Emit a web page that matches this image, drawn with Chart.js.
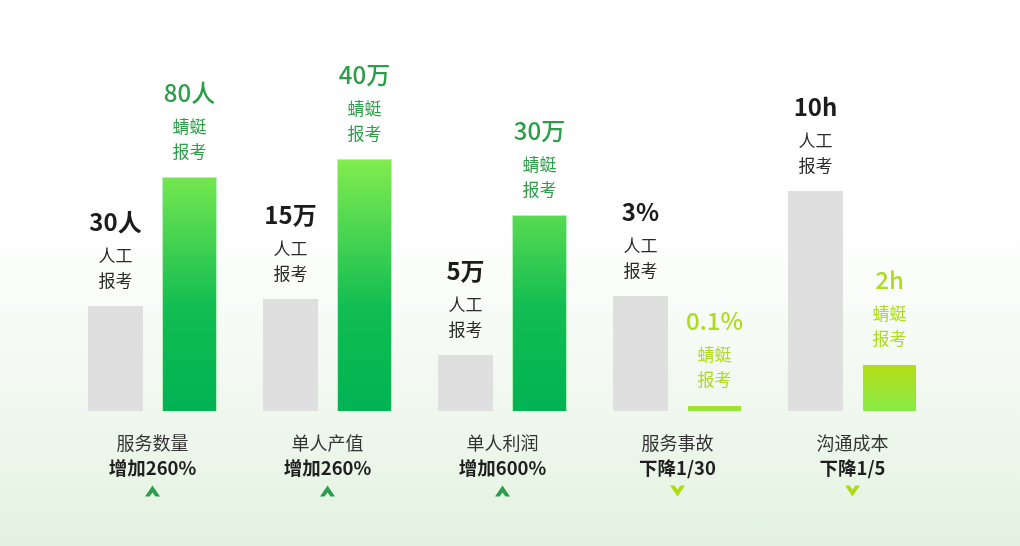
<!DOCTYPE html>
<html>
<head>
<meta charset="utf-8">
<script src="https://cdn.jsdelivr.net/npm/chart.js@4/dist/chart.umd.min.js"></script>
<style>
  html, body { margin: 0; padding: 0; }
  body {
    width: 1020px; height: 546px; overflow: hidden;
    background: linear-gradient(180deg, #ffffff 0%, #ffffff 40%, #f3f9f2 68%, #e9f5e7 88%, #e4f2e1 100%);
  }
  #wrap { position: relative; width: 1020px; height: 546px; }
</style>
</head>
<body>
<div id="wrap"><canvas id="barchart" width="1020" height="546"></canvas></div>
<script>
// 分类与数据（柱高按原图的视觉高度估读）
var categories = ['服务数量', '单人产值', '单人利润', '服务事故', '沟通成本'];
var changeText = ['增加260%', '增加260%', '增加600%', '下降1/30', '下降1/5'];
var trend = ['up', 'up', 'up', 'down', 'down'];
var manualHeight = [105, 112, 56, 115, 220];
var qingtingHeight = [234, 252, 196, 6, 47];
var manualLabels = ['30人', '15万', '5万', '3%', '10h'];
var qingtingLabels = ['80人', '40万', '30万', '0.1%', '2h'];

var FONT = "'Noto Sans CJK SC', 'Noto Sans', sans-serif";

function greenFill(context) {
  var chart = context.chart;
  var i = context.dataIndex;
  var y = chart.scales.y;
  if (!y || !chart.chartArea) return '#00b353';
  var top = y.getPixelForValue(qingtingHeight[i]);
  var bottom = y.getPixelForValue(0);
  var g = chart.ctx.createLinearGradient(0, top, 0, bottom);
  if (trend[i] === 'up') {
    var areaTop = y.getPixelForValue(260);
    g = chart.ctx.createLinearGradient(0, areaTop, 0, bottom);
    g.addColorStop(0, '#88ef4f');
    g.addColorStop(0.6, '#12bd52');
    g.addColorStop(1, '#00b353');
  } else {
    g.addColorStop(0, '#b4dc14');
    g.addColorStop(1, '#88eb47');
  }
  return g;
}

var labelPlugin = {
  id: 'labelPlugin',
  afterDatasetsDraw: function (chart) {
    var ctx = chart.ctx;
    ctx.save();
    ctx.textAlign = 'center';
    ctx.textBaseline = 'middle';
    chart.data.datasets.forEach(function (ds, di) {
      var meta = chart.getDatasetMeta(di);
      meta.data.forEach(function (bar, i) {
        var top = bar.y;
        var x = bar.x;
        var valueText, sub1, sub2, vColor, sColor, vWeight;
        if (di === 0) {
          valueText = manualLabels[i]; sub1 = '人工'; sub2 = '报考';
          vColor = '#1c1c1c'; sColor = '#2a2a2a'; vWeight = '700';
        } else {
          valueText = qingtingLabels[i]; sub1 = '蜻蜓'; sub2 = '报考';
          vColor = trend[i] === 'up' ? '#2c9e47' : '#addb1e';
          sColor = vColor; vWeight = '500';
        }
        ctx.fillStyle = vColor;
        ctx.font = vWeight + ' 24px ' + FONT;
        ctx.fillText(valueText, x, top - 84);
        ctx.fillStyle = sColor;
        ctx.font = '400 17px ' + FONT;
        ctx.fillText(sub1, x, top - 50);
        ctx.fillText(sub2, x, top - 25);
      });
    });

    // 底部分类、变化幅度和箭头
    var xs = chart.scales.x;
    categories.forEach(function (c, i) {
      var cx = xs.getPixelForValue(i);
      ctx.fillStyle = '#333333';
      ctx.font = '400 18px ' + FONT;
      ctx.fillText(c, cx, 443);
      ctx.fillStyle = '#1f1f1f';
      ctx.font = '700 18.5px ' + FONT;
      ctx.fillText(changeText[i], cx, 468);

      var cy = 491;
      ctx.beginPath();
      if (trend[i] === 'up') {
        ctx.fillStyle = '#2a9e4a';
        ctx.moveTo(cx - 7.5, cy + 5.5);
        ctx.lineTo(cx, cy - 5.5);
        ctx.lineTo(cx + 7.5, cy + 5.5);
        ctx.lineTo(cx + 3, cy + 5.5);
        ctx.lineTo(cx, cy + 1.5);
        ctx.lineTo(cx - 3, cy + 5.5);
      } else {
        ctx.fillStyle = '#b2da12';
        ctx.moveTo(cx - 7.5, cy - 5.5);
        ctx.lineTo(cx, cy + 5.5);
        ctx.lineTo(cx + 7.5, cy - 5.5);
        ctx.lineTo(cx + 3, cy - 5.5);
        ctx.lineTo(cx, cy - 1.5);
        ctx.lineTo(cx - 3, cy - 5.5);
      }
      ctx.closePath();
      ctx.fill();
    });
    ctx.restore();
  }
};

var data = {
  labels: categories,
  datasets: [{
    label: '人工报考',
    data: manualHeight,
    backgroundColor: '#dfdfdf',
    borderWidth: 0,
    categoryPercentage: 0.846,
    barPercentage: 0.743
  }, {
    label: '蜻蜓报考',
    data: qingtingHeight,
    backgroundColor: greenFill,
    borderColor: function (context) {
      return trend[context.dataIndex] === 'up' ? 'rgba(170,240,180,0.9)' : 'rgba(0,0,0,0)';
    },
    borderWidth: { left: 1, right: 1, top: 1, bottom: 0 },
    categoryPercentage: 0.846,
    barPercentage: 0.743
  }]
};

var config = {
  type: 'bar',
  data: data,
  options: {
    responsive: false,
    animation: false,
    layout: { padding: { left: 65, right: 80, top: 111, bottom: 135 } },
    plugins: {
      legend: { display: false },
      tooltip: { enabled: false }
    },
    scales: {
      x: { display: false },
      y: { display: false, min: 0, max: 300 }
    }
  },
  plugins: [labelPlugin]
};

var ctx = document.getElementById('barchart').getContext('2d');
new Chart(ctx, config);
</script>
</body>
</html>
